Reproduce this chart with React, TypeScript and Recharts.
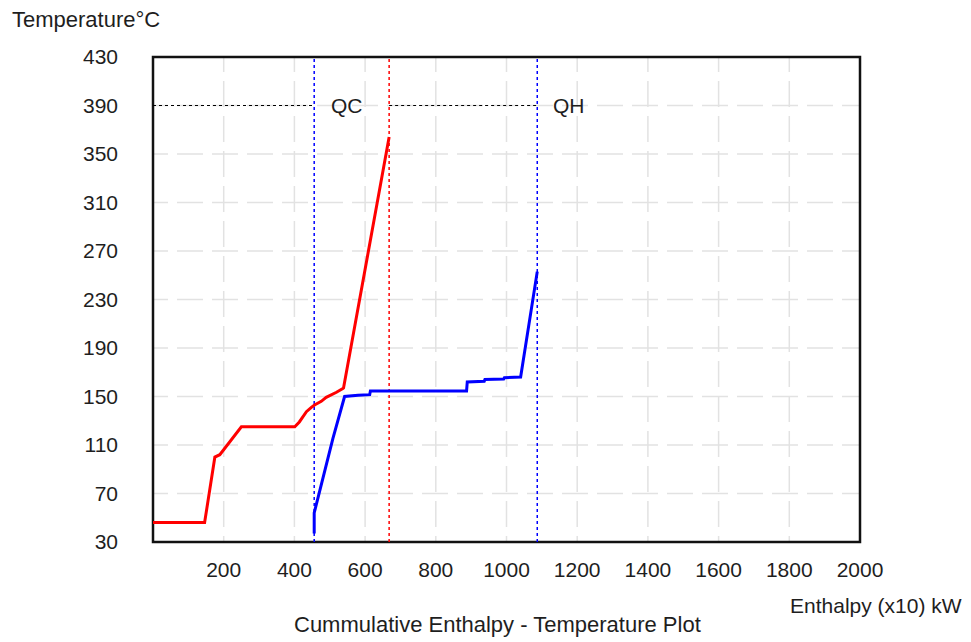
import React from 'react';
import {
  LineChart,
  Line,
  XAxis,
  YAxis,
  CartesianGrid,
  ReferenceLine,
  ReferenceArea,
  ReferenceDot,
} from 'recharts';

// Hot composite curve (red)
const hotEnthalpy = [0, 146, 175, 189, 250, 401, 414, 434, 448, 457, 476, 490, 519, 537, 539, 668];
const hotTemp = [46, 46, 100, 102, 125, 125, 129, 137.5, 141, 143, 146, 149.3, 153.5, 156.5, 157, 364];

// Cold composite curve (blue)
const coldEnthalpy = [456, 456, 509, 542, 580, 613, 615, 887, 889, 937, 939, 992, 994, 1040, 1087];
const coldTemp = [37, 54, 115.5, 150, 151, 151.5, 154.5, 154.5, 162, 162.5, 164, 164.5, 165.5, 166, 253];

const xTicks = [200, 400, 600, 800, 1000, 1200, 1400, 1600, 1800, 2000];
const yTicks = [30, 70, 110, 150, 190, 230, 270, 310, 350, 390, 430];

const qcEnthalpy = 456;
const pinchEnthalpy = 668;
const qhEnthalpy = 1087;
const qLevel = 390;
const qcLabelX = 548;
const qhLabelX = 1176;

const hotData = hotEnthalpy.map((h, i) => ({ h, t: hotTemp[i] }));
const coldData = coldEnthalpy.map((h, i) => ({ h, t: coldTemp[i] }));

const FONT = '"Liberation Sans", Arial, sans-serif';
const TEXT = '#1e1e1e';
const FS = 21;

export default function App() {
  return (
    <div style={{ position: 'absolute', left: 0, top: 0, width: 971, height: 642, background: '#fff' }}>
      <LineChart
        width={971}
        height={642}
        margin={{ top: 57, right: 111, bottom: 70, left: 93 }}
      >
        <CartesianGrid stroke="#e2e2e2" strokeWidth={1.5} strokeDasharray="26 9" strokeDashoffset={11} />
        <XAxis
          type="number"
          dataKey="h"
          domain={[0, 2000]}
          ticks={xTicks}
          interval={0}
          height={30}
          axisLine={false}
          tickLine={false}
          tickSize={0}
          tickMargin={20}
          tick={{ fill: TEXT, fontSize: FS, fontFamily: FONT }}
          allowDataOverflow
        />
        <YAxis
          type="number"
          dataKey="t"
          domain={[30, 430]}
          ticks={yTicks}
          interval={0}
          width={60}
          axisLine={false}
          tickLine={false}
          tickSize={0}
          tickMargin={35}
          tick={{ fill: TEXT, fontSize: FS, fontFamily: FONT }}
          allowDataOverflow
        />
        <ReferenceLine
          segment={[{ x: 0, y: qLevel }, { x: qcEnthalpy, y: qLevel }]}
          stroke="#000"
          strokeWidth={1}
          strokeDasharray="3 3"
        />
        <ReferenceLine
          segment={[{ x: pinchEnthalpy, y: qLevel }, { x: qhEnthalpy, y: qLevel }]}
          stroke="#000"
          strokeWidth={1}
          strokeDasharray="3 3"
        />
        <ReferenceLine x={qcEnthalpy} stroke="#0000ff" strokeWidth={1.5} strokeDasharray="3 3" />
        <ReferenceLine x={pinchEnthalpy} stroke="#ff0000" strokeWidth={1.5} strokeDasharray="3 3" />
        <ReferenceLine x={qhEnthalpy} stroke="#0000ff" strokeWidth={1.5} strokeDasharray="3 3" />
        <ReferenceDot
          x={qcLabelX}
          y={qLevel}
          r={0}
          fill="none"
          stroke="none"
          label={{ value: 'QC', position: 'center', fill: TEXT, fontSize: FS, fontFamily: FONT }}
        />
        <ReferenceDot
          x={qhLabelX}
          y={qLevel}
          r={0}
          fill="none"
          stroke="none"
          label={{ value: 'QH', position: 'center', fill: TEXT, fontSize: FS, fontFamily: FONT }}
        />
        <Line
          data={hotData}
          dataKey="t"
          type="linear"
          stroke="#ff0000"
          strokeWidth={3}
          dot={false}
          activeDot={false}
          isAnimationActive={false}
        />
        <Line
          data={coldData}
          dataKey="t"
          type="linear"
          stroke="#0000ff"
          strokeWidth={3}
          dot={false}
          activeDot={false}
          isAnimationActive={false}
        />
        <ReferenceArea x1={0} x2={2000} y1={30} y2={430} fill="none" stroke="#111" strokeWidth={2.5} />
      </LineChart>
      <svg
        width={971}
        height={642}
        style={{ position: 'absolute', left: 0, top: 0, pointerEvents: 'none' }}
      >
        <text x={12} y={27} fill={TEXT} fontSize={22} fontFamily={FONT}>
          Temperature°C
        </text>
        <text x={790} y={613} fill={TEXT} fontSize={FS} fontFamily={FONT}>
          Enthalpy (x10) kW
        </text>
        <text x={294} y={632} fill={TEXT} fontSize={22} fontFamily={FONT}>
          Cummulative Enthalpy - Temperature Plot
        </text>
      </svg>
    </div>
  );
}
